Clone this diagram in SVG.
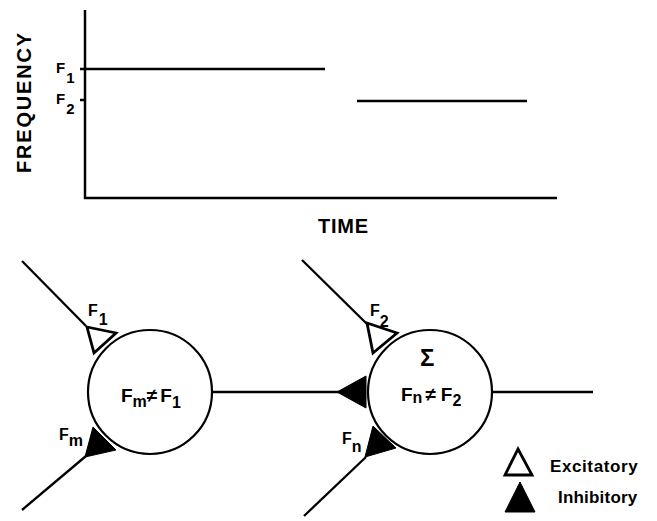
<svg xmlns="http://www.w3.org/2000/svg" width="657" height="521" viewBox="0 0 657 521">
<style>
  text { font-family: "Liberation Sans", Arial, sans-serif; font-weight: bold; fill: #000; }
  .ax { stroke: #000; stroke-width: 2.5; fill: none; }
  .ln { stroke: #000; stroke-width: 2.3; fill: none; }
  .cell { stroke: #000; stroke-width: 2.2; fill: #fff; }
  .exc { stroke: #000; stroke-width: 2.8; fill: #fff; stroke-linejoin: miter; }
  .inh { stroke: #000; stroke-width: 1; fill: #000; }
  .lbl { font-size: 16px; }
  .sub { font-size: 16px; }
  .mid { font-size: 19px; }
</style>
<rect width="657" height="521" fill="#fff"/>

<g id="chart">
  <line class="ax" x1="85" y1="10" x2="85" y2="199"/>
  <line class="ax" x1="84" y1="198" x2="557" y2="198"/>
  <line class="ax" x1="80" y1="69" x2="85" y2="69"/>
  <line class="ax" x1="80" y1="100" x2="85" y2="100"/>
  <line class="ln" x1="85" y1="69" x2="325" y2="69" stroke-width="2.5"/>
  <line class="ln" x1="357" y1="101" x2="527" y2="101" stroke-width="2.5"/>
  <text x="56" y="73" font-size="15">F<tspan dx="1" dy="10">1</tspan></text>
  <text x="56" y="104" font-size="15">F<tspan dx="1" dy="10">2</tspan></text>
  <text transform="translate(31,173) rotate(-90)" font-size="20" textLength="140" lengthAdjust="spacing">FREQUENCY</text>
  <text x="318" y="233" font-size="20" textLength="50" lengthAdjust="spacing">TIME</text>
</g>

<g id="connectors">
  <line class="ln" x1="22" y1="261" x2="86" y2="326"/>
  <line class="ln" x1="22" y1="510" x2="86" y2="456"/>
  <line class="ln" x1="302" y1="260" x2="367" y2="324"/>
  <line class="ln" x1="304" y1="516" x2="366" y2="457"/>
  <line class="ln" x1="212" y1="392" x2="340" y2="392"/>
  <line class="ln" x1="492" y1="392" x2="593" y2="392"/>
</g>

<g id="neuron1">
  <circle class="cell" cx="150" cy="392" r="62"/>
  <polygon class="exc" points="87,327 116,333 94,353"/>
  <polygon class="inh" points="85,457 93,427 116,450"/>
  <text class="lbl" x="88" y="316">F<tspan class="sub" dx="1" dy="9">1</tspan></text>
  <text class="lbl" x="59" y="440">F<tspan class="sub" dy="6">m</tspan></text>
  <text class="mid" x="121" y="402">F<tspan class="sub" dy="5">m</tspan><tspan dy="-5">≠</tspan><tspan dx="3">F</tspan><tspan class="sub" dy="6">1</tspan></text>
</g>

<g id="neuron2">
  <circle class="cell" cx="430" cy="392" r="62"/>
  <polygon class="exc" points="367,323 397,333 373,353"/>
  <polygon class="inh" points="337,392 366,376 366,408"/>
  <polygon class="inh" points="365,457 373,426 396,448"/>
  <text class="lbl" x="370" y="316">F<tspan class="sub" dy="11">2</tspan></text>
  <text class="lbl" x="342" y="444">F<tspan class="sub" dy="8">n</tspan></text>
  <text x="420" y="366" font-size="24">Σ</text>
  <text class="mid" x="401" y="401">F<tspan class="sub" dy="2">n</tspan><tspan dy="-2" dx="3">≠</tspan><tspan dx="5">F</tspan><tspan class="sub" dy="5">2</tspan></text>
</g>

<g id="legend">
  <polygon class="exc" points="518,449 532,475 505,475" stroke-width="3"/>
  <polygon class="inh" points="520,482 535,512 505,512"/>
  <text x="550" y="472" font-size="17" letter-spacing="0.6">Excitatory</text>
  <text x="558" y="503" font-size="17" letter-spacing="0.2">Inhibitory</text>
</g>
</svg>
